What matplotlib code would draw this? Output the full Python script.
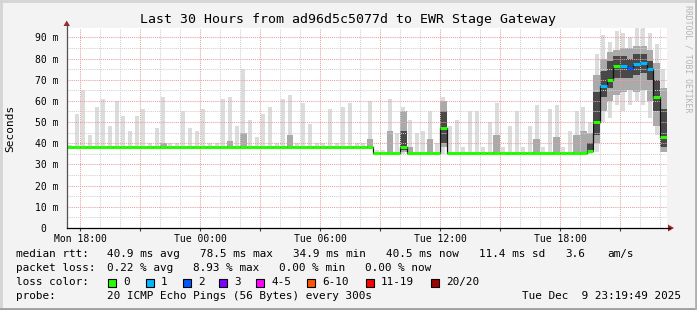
#!/usr/bin/env python3
"""SmokePing style latency chart: last 30 hours, ad96d5c5077d -> EWR Stage Gateway."""
import matplotlib
matplotlib.use("Agg")
import matplotlib.pyplot as plt
import matplotlib.dates as mdates
from matplotlib.lines import Line2D
from matplotlib.patches import Rectangle, Polygon
import numpy as np
import pandas as pd

W, H = 697, 310
MONO = "DejaVu Sans Mono"

TITLE = "Last 30 Hours from ad96d5c5077d to EWR Stage Gateway"
START = "2025-12-08 17:20"      # 20 minute bins, 90 of them
N_BINS = 90

# median rtt per bin (ms)
median_ms = [
    38.3, 38.3, 38.3, 38.3, 38.3, 38.3, 38.3, 38.3, 38.3, 38.3,
    38.3, 38.3, 38.3, 38.3, 38.3, 38.3, 38.3, 38.3, 38.3, 38.3,
    38.3, 38.3, 38.3, 38.3, 38.3, 38.3, 38.3, 38.3, 38.3, 38.3,
    38.3, 38.3, 38.3, 38.3, 38.3, 38.3, 38.3, 38.3, 38.3, 38.3,
    38.3, 38.3, 38.3, 38.3, 38.3, 38.3, 35.3, 35.3, 35.3, 35.3,
    38.0, 35.3, 35.3, 35.3, 35.3, 35.3, 47.0, 35.3, 35.3, 35.3,
    35.3, 35.3, 35.3, 35.3, 35.3, 35.3, 35.3, 35.3, 35.3, 35.3,
    35.3, 35.3, 35.3, 35.3, 35.3, 35.3, 35.3, 35.3, 36.5, 50.0,
    67.0, 70.0, 76.5, 76.5, 75.5, 77.5, 78.0, 75.0, 62.0, 43.0,
]
# lost pings (of 20) per bin
loss_pings = [
    0, 0, 0, 0, 0, 0, 0, 0, 0, 0,
    0, 0, 0, 0, 0, 0, 0, 0, 0, 0,
    0, 0, 0, 0, 0, 0, 0, 0, 0, 0,
    0, 0, 0, 0, 0, 0, 0, 0, 0, 0,
    0, 0, 0, 0, 0, 0, 0, 0, 0, 0,
    0, 0, 0, 0, 0, 0, 0, 0, 0, 0,
    0, 0, 0, 0, 0, 0, 0, 0, 0, 0,
    0, 0, 0, 0, 0, 0, 0, 0, 0, 0,
    1, 0, 0, 1, 2, 1, 1, 1, 0, 0,
]
# smoke: slowest / fastest ping
smoke_max_ms = [
    39, 54, 65, 44, 57, 61, 48, 60, 53, 46,
    53, 56, 40, 47, 62, 40, 40, 55, 47, 46,
    56, 40, 40, 61, 62, 48, 75, 51, 43, 54,
    57, 40, 61, 63, 40, 59, 49, 40, 40, 56,
    40, 57, 59, 40, 40, 60, 37, 37, 61, 45,
    57, 51, 45, 46, 55, 40, 62, 48, 51, 38,
    55, 55, 38, 50, 59, 38, 48, 55, 38, 48,
    58, 38, 56, 58, 38, 46, 55, 57, 50, 82,
    91, 88, 93, 92, 90, 95, 95, 92, 87, 75,
]
smoke_min_ms = [
    37.8, 37.8, 37.8, 37.8, 37.8, 37.8, 37.8, 37.8, 37.8, 37.8,
    37.8, 37.8, 37.8, 37.8, 37.8, 37.8, 37.8, 37.8, 37.8, 37.8,
    37.8, 37.8, 37.8, 37.8, 37.8, 37.8, 37.8, 37.8, 37.8, 37.8,
    37.8, 37.8, 37.8, 37.8, 37.8, 37.8, 37.8, 37.8, 37.8, 37.8,
    37.8, 37.8, 37.8, 37.8, 37.8, 37.8, 34.8, 34.8, 34.8, 34.8,
    35.0, 34.8, 34.8, 34.8, 34.8, 34.8, 35.0, 34.8, 34.8, 34.8,
    34.8, 34.8, 34.8, 34.8, 34.8, 34.8, 34.8, 34.8, 34.8, 34.8,
    34.8, 34.8, 34.8, 34.8, 34.8, 34.8, 34.8, 34.8, 34.8, 36.0,
    50.0, 52.0, 58.0, 55.0, 58.0, 60.0, 58.0, 52.0, 44.0, 36.0,
]
# smoke: 10th..90th percentile
mid_lo_ms = [
    38.3, 38.3, 38.3, 38.3, 38.3, 38.3, 38.3, 38.3, 38.3, 38.3,
    38.3, 38.3, 38.3, 38.3, 38.3, 38.3, 38.3, 38.3, 38.3, 38.3,
    38.3, 38.3, 38.3, 38.3, 38.3, 38.3, 38.3, 38.3, 38.3, 38.3,
    38.3, 38.3, 38.3, 38.3, 38.3, 38.3, 38.3, 38.3, 38.3, 38.3,
    38.3, 38.3, 38.3, 38.3, 38.3, 38.3, 35.3, 35.3, 35.3, 35.3,
    36.0, 35.3, 35.3, 35.3, 35.3, 35.3, 38.0, 35.3, 35.3, 35.3,
    35.3, 35.3, 35.3, 35.3, 35.3, 35.3, 35.3, 35.3, 35.3, 35.3,
    35.3, 35.3, 35.3, 35.3, 35.3, 35.3, 35.3, 35.3, 35.3, 40.0,
    55.0, 60.0, 63.0, 64.0, 65.0, 64.0, 65.0, 60.0, 48.0, 36.0,
]
mid_hi_ms = [
    38.3, 38.3, 38.3, 38.3, 38.3, 38.3, 38.3, 38.3, 38.3, 38.3,
    38.3, 38.3, 38.3, 38.3, 40.0, 38.3, 38.3, 38.3, 38.3, 38.3,
    38.3, 38.3, 38.3, 38.3, 41.0, 38.3, 45.0, 38.3, 38.3, 38.3,
    38.3, 38.3, 38.3, 44.0, 38.3, 38.3, 38.3, 38.3, 38.3, 38.3,
    38.3, 38.3, 38.3, 38.3, 38.3, 42.0, 35.3, 35.3, 46.0, 35.3,
    55.0, 38.0, 35.3, 35.3, 42.0, 35.3, 60.0, 35.3, 35.3, 35.3,
    35.3, 35.3, 35.3, 35.3, 44.0, 35.3, 35.3, 35.3, 35.3, 35.3,
    42.0, 35.3, 35.3, 43.0, 35.3, 35.3, 44.0, 46.0, 45.0, 72.0,
    80.0, 83.0, 84.0, 85.0, 85.0, 86.0, 86.0, 84.0, 78.0, 66.0,
]
# smoke: 25th..75th percentile
core_lo_ms = [
    38.3, 38.3, 38.3, 38.3, 38.3, 38.3, 38.3, 38.3, 38.3, 38.3,
    38.3, 38.3, 38.3, 38.3, 38.3, 38.3, 38.3, 38.3, 38.3, 38.3,
    38.3, 38.3, 38.3, 38.3, 38.3, 38.3, 38.3, 38.3, 38.3, 38.3,
    38.3, 38.3, 38.3, 38.3, 38.3, 38.3, 38.3, 38.3, 38.3, 38.3,
    38.3, 38.3, 38.3, 38.3, 38.3, 38.3, 35.3, 35.3, 35.3, 35.3,
    37.0, 35.3, 35.3, 35.3, 35.3, 35.3, 40.0, 35.3, 35.3, 35.3,
    35.3, 35.3, 35.3, 35.3, 35.3, 35.3, 35.3, 35.3, 35.3, 35.3,
    35.3, 35.3, 35.3, 35.3, 35.3, 35.3, 35.3, 35.3, 35.3, 44.0,
    62.0, 66.0, 71.0, 71.0, 71.0, 72.0, 73.0, 70.0, 55.0, 38.0,
]
core_hi_ms = [
    38.3, 38.3, 38.3, 38.3, 38.3, 38.3, 38.3, 38.3, 38.3, 38.3,
    38.3, 38.3, 38.3, 38.3, 38.3, 38.3, 38.3, 38.3, 38.3, 38.3,
    38.3, 38.3, 38.3, 38.3, 38.3, 38.3, 38.3, 38.3, 38.3, 38.3,
    38.3, 38.3, 38.3, 38.3, 38.3, 38.3, 38.3, 38.3, 38.3, 38.3,
    38.3, 38.3, 38.3, 38.3, 38.3, 38.3, 35.3, 35.3, 35.3, 35.3,
    46.0, 35.3, 35.3, 35.3, 35.3, 35.3, 55.0, 35.3, 35.3, 35.3,
    35.3, 35.3, 35.3, 35.3, 35.3, 35.3, 35.3, 35.3, 35.3, 35.3,
    35.3, 35.3, 35.3, 35.3, 35.3, 35.3, 35.3, 35.3, 40.0, 64.0,
    74.0, 79.0, 81.0, 81.0, 80.0, 82.0, 82.0, 79.0, 70.0, 56.0,
]

LOSS_LABELS = ["0", "1", "2", "3", "4-5", "6-10", "11-19", "20/20"]
LOSS_COLORS = ["#26ff00", "#00b8ff", "#0059ff", "#7e00ff",
               "#ff00ff", "#ff5500", "#ff0000", "#a10000"]
LOSS_UPPER = [0, 1, 2, 3, 5, 10, 19, 20]

stats_rtt = ["40.9 ms avg", "78.5 ms max", "34.9 ms min", "40.5 ms now",
             "11.4 ms sd", "3.6", "am/s"]
stats_loss = ["0.22 % avg", "8.93 % max", "0.00 % min", "0.00 % now"]
PROBE = "20 ICMP Echo Pings (56 Bytes) every 300s"
STAMP = "Tue Dec  9 23:19:49 2025"


def loss_color(n):
    for up, c in zip(LOSS_UPPER, LOSS_COLORS):
        if n <= up:
            return c
    return LOSS_COLORS[-1]


def px(x, y):
    return x / W, 1 - y / H


edges = pd.date_range(START, periods=N_BINS + 1, freq="20min")
t = mdates.date2num(edges.to_pydatetime())
centers = (t[:-1] + t[1:]) / 2
step = t[1] - t[0]

fig = plt.figure(figsize=(W / 100, H / 100), dpi=100, facecolor="#f3f3f3")
ax = fig.add_axes([66.7 / W, 82 / H, 600 / W, 200 / H])
ax.set_facecolor("white")
for s in ax.spines.values():
    s.set_visible(False)


def band(lo, hi, color, z):
    lo = np.append(lo, lo[-1])
    hi = np.append(hi, hi[-1])
    ax.fill_between(t, lo, hi, step="post", color=color, lw=0, zorder=z)


# outer smoke as thin streaks, inner smoke as continuous bands
ax.bar(centers, np.subtract(smoke_max_ms, smoke_min_ms), bottom=smoke_min_ms,
       width=0.6 * step, color="#dcdcdc", lw=0, zorder=1)
band(mid_lo_ms, mid_hi_ms, "#aaaaaa", 1.1)
band(core_lo_ms, core_hi_ms, "#484848", 1.2)

# grid on top of the smoke, rrdtool style
dot = (0, (1, 1))
for v in range(5, 95, 5):
    ax.axhline(v, color="#e6a0a0" if v % 10 == 0 else "#d0d0d0",
               lw=0.75, ls=dot, zorder=2)
hours = pd.date_range("2025-12-08 18:00", "2025-12-09 23:00", freq="h")
for h in hours:
    ax.axvline(mdates.date2num(h.to_pydatetime()),
               color="#e6a0a0" if h.hour % 3 == 0 else "#d0d0d0",
               lw=0.75, ls=dot, zorder=2)

# median line, coloured by loss
ax.step(t, np.append(median_ms, median_ms[-1]), where="post",
        color="#101010", lw=0.9, zorder=3)
ax.hlines(median_ms, t[:-1], t[1:],
          colors=[loss_color(n) for n in loss_pings], lw=2.2, zorder=4)

ax.set_xlim(t[0], t[-1])
ax.set_ylim(0, 94.4)

ax.set_yticks(range(0, 100, 10))
ax.set_yticklabels(["0  "] + [f"{v} m" for v in range(10, 100, 10)],
                   family=MONO, fontsize=7)
ax.tick_params(axis="y", length=0, pad=5.6)

major = pd.date_range("2025-12-08 18:00", "2025-12-09 21:00", freq="3h")
ax.set_xticks(mdates.date2num(major.to_pydatetime()))
ax.set_xticklabels([h.strftime("%a %H:%M") if h.hour % 6 == 0 else ""
                    for h in major], family=MONO, fontsize=7)
ax.tick_params(axis="x", length=2.5, width=0.8, color="#404040", pad=1.5)

# axes with arrows
fig.add_artist(Line2D([66.7 / W, 66.7 / W], [1 - 228 / H, 1 - 25 / H],
                      color="#505050", lw=0.9))
fig.add_artist(Line2D([66.7 / W, 670 / W], [1 - 228 / H, 1 - 228 / H],
                      color="black", lw=0.9))
fig.add_artist(Polygon([px(63.5, 26), px(70, 26), px(66.7, 20.5)],
                       closed=True, fc="#a02828", ec="none",
                       transform=fig.transFigure))
fig.add_artist(Polygon([px(668, 224.5), px(668, 231.5), px(674, 228)],
                       closed=True, fc="#a02828", ec="none",
                       transform=fig.transFigure))

fig.text(*px(348, 19), TITLE, family=MONO, fontsize=9.5,
         ha="center", va="center")
fig.text(*px(10, 128), "Seconds", family=MONO, fontsize=8,
         rotation=90, ha="center", va="center")
fig.text(*px(688, 5), "RRDTOOL / TOBI OETIKER", family=MONO, fontsize=5.9,
         rotation=270, ha="center", va="top", color="#b4b4b4")

# legend block
LEG = 7.95
fig.text(*px(16, 254), "median rtt:", family=MONO, fontsize=LEG, va="center")
for x, s in zip([107, 200, 293, 386, 479, 565, 607], stats_rtt):
    fig.text(*px(x, 254), s, family=MONO, fontsize=LEG, va="center")
fig.text(*px(16, 268), "packet loss:", family=MONO, fontsize=LEG, va="center")
for x, s in zip([107, 193, 279, 365], stats_loss):
    fig.text(*px(x, 268), s, family=MONO, fontsize=LEG, va="center")
fig.text(*px(16, 282), "loss color:", family=MONO, fontsize=LEG, va="center")
for x, lab, c in zip([108, 146, 183, 219, 256, 307, 366, 431],
                     LOSS_LABELS, LOSS_COLORS):
    fig.add_artist(Rectangle(px(x, 286.5), 8 / W, 8 / H, fc=c, ec="black",
                             lw=0.8, transform=fig.transFigure))
    fig.text(*px(x + 15, 282), lab, family=MONO, fontsize=LEG, va="center")
fig.text(*px(16, 296), "probe:", family=MONO, fontsize=LEG, va="center")
fig.text(*px(107, 296), PROBE, family=MONO, fontsize=LEG, va="center")
fig.text(*px(681, 296), STAMP, family=MONO, fontsize=LEG, va="center",
         ha="right")

# 3d-ish frame
for xs, ys, c in [([0, W], [1, 1], "#d4d4d4"), ([1, 1], [0, H], "#d4d4d4"),
                  ([0, W], [H - 1.5, H - 1.5], "#9e9e9e"),
                  ([W - 1, W - 1], [0, H], "#b0b0b0")]:
    fig.add_artist(Line2D([x / W for x in xs], [1 - y / H for y in ys],
                          color=c, lw=2))

fig.savefig("out.png", dpi=100, facecolor=fig.get_facecolor())
